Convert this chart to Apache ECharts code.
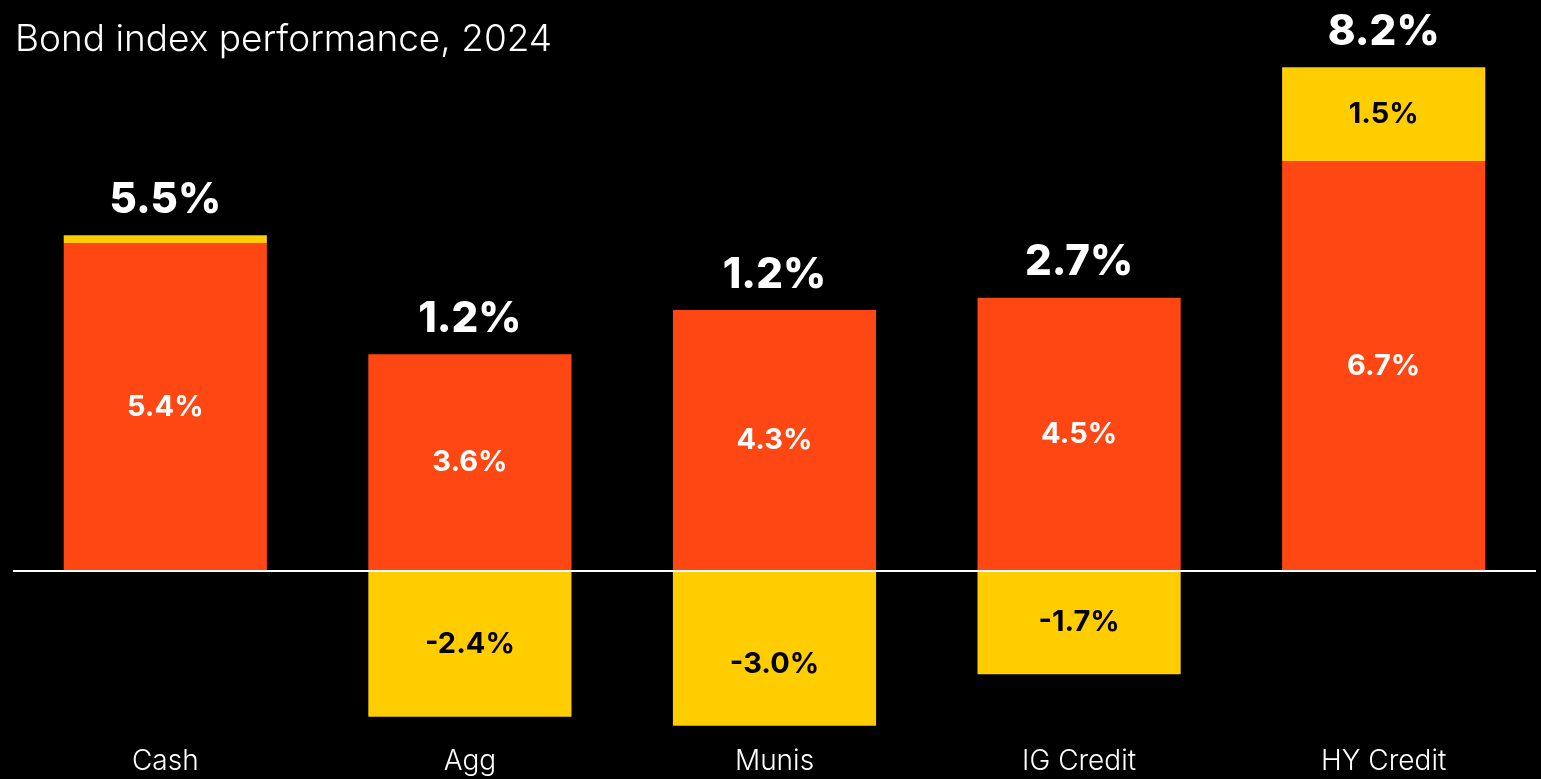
<!DOCTYPE html>
<html>
<head>
<meta charset="utf-8">
<script src="https://cdn.jsdelivr.net/npm/echarts@6/dist/echarts.min.js"></script>
<style>
  html, body { margin: 0; padding: 0; background: #000; }
  #chart { width: 1541px; height: 779px; }
</style>
</head>
<body>
<div id="chart"></div>
<script>
const categories = ['Cash', 'Agg', 'Munis', 'IG Credit', 'HY Credit']
// income return (orange)
const incomeValues = [5.4, 3.57, 4.3, 4.5, 6.75]
const incomeLabels = ['5.4%', '3.6%', '4.3%', '4.5%', '6.7%']
// price return (yellow) - bar lengths as drawn, labels as printed
const priceValues = [0.13, -2.4, -2.55, -1.7, 1.55]
const priceLabels = ['', '-2.4%', '-3.0%', '-1.7%', '1.5%']
// total return shown above each bar
const totalLabels = ['5.5%', '1.2%', '1.2%', '2.7%', '8.2%']

const ORANGE = '#FF4713'
const YELLOW = '#FFCD00'
const FONT = 'Inter'

// top of the positive stack, where the total label sits
const stackTops = incomeValues.map((v, i) => v + Math.max(priceValues[i], 0))

const chart = echarts.init(document.getElementById('chart'))

chart.setOption({
  backgroundColor: '#000',
  animation: false,
  title: {
    text: 'Bond index performance, 2024',
    left: 10,
    top: 16,
    textStyle: { color: '#fff', fontFamily: FONT, fontWeight: 300, fontSize: 37 }
  },
  grid: { left: 13, right: 5, top: 55, bottom: 38 },
  xAxis: {
    type: 'category',
    data: categories,
    axisLine: { show: false },
    axisTick: { show: false },
    axisLabel: { color: '#fff', fontFamily: FONT, fontWeight: 300, fontSize: 28, margin: 7 }
  },
  yAxis: {
    type: 'value',
    min: -2.8,
    max: 8.5,
    show: false,
    splitLine: { show: false }
  },
  series: [
    {
      name: 'Income',
      type: 'bar',
      stack: 'total',
      barWidth: '66.7%',
      itemStyle: { color: ORANGE },
      label: {
        show: true,
        position: 'inside',
        color: '#fff',
        fontFamily: FONT,
        fontWeight: 'bold',
        fontSize: 29,
        formatter: p => incomeLabels[p.dataIndex]
      },
      data: incomeValues,
      markLine: {
        symbol: 'none',
        silent: true,
        label: { show: false },
        lineStyle: { color: '#fff', width: 2, type: 'solid' },
        data: [{ yAxis: 0 }]
      }
    },
    {
      name: 'Price',
      type: 'bar',
      stack: 'total',
      barWidth: '66.7%',
      itemStyle: { color: YELLOW },
      label: {
        show: true,
        position: 'inside',
        color: '#000',
        fontFamily: FONT,
        fontWeight: 'bold',
        fontSize: 29,
        formatter: p => priceLabels[p.dataIndex]
      },
      data: priceValues.map((v, i) => i === 2 ? { value: v, label: { offset: [0, 16] } } : v)
    },
    {
      name: 'Total',
      type: 'scatter',
      symbolSize: 0,
      z: 5,
      itemStyle: { opacity: 1 },
      label: {
        show: true,
        position: 'top',
        distance: 14,
        color: '#fff',
        opacity: 1,
        fontFamily: FONT,
        fontWeight: 800,
        fontSize: 42,
        formatter: p => totalLabels[p.dataIndex]
      },
      data: stackTops
    }
  ]
})
</script>
</body>
</html>
